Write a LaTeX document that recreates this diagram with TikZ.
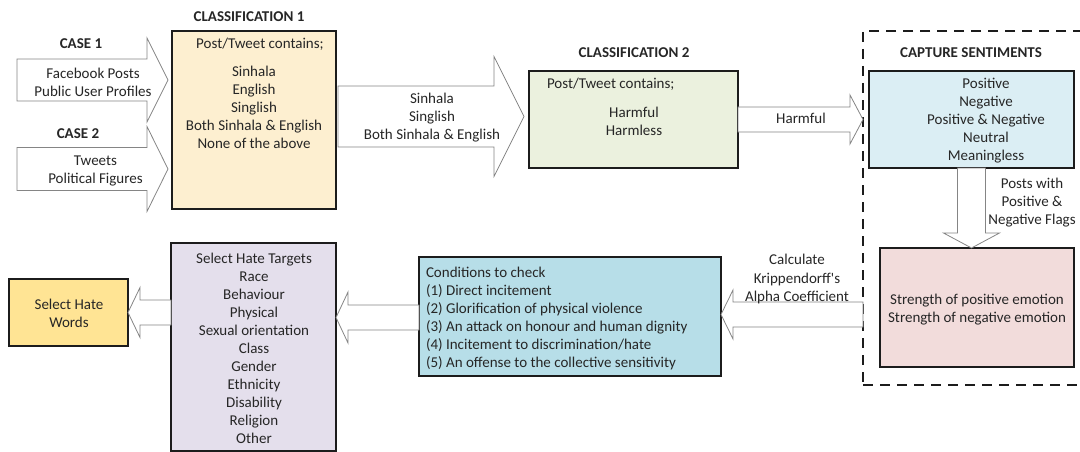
\documentclass[tikz,border=0pt]{standalone}
\usepackage{fontspec}
\setmainfont{Carlito}
\newfontfamily\plainquote{Carlito}[Ligatures=TeXOff]
\usetikzlibrary{calc}

\definecolor{ink}{HTML}{262626}
\definecolor{edge}{HTML}{1C1C1C}
\definecolor{arrowline}{HTML}{858585}
\definecolor{fillA}{HTML}{FDEFD0}
\definecolor{fillB}{HTML}{EBF1DE}
\definecolor{fillC}{HTML}{DBEEF4}
\definecolor{fillD}{HTML}{F2DCDB}
\definecolor{fillE}{HTML}{B7DEE8}
\definecolor{fillF}{HTML}{E4DFEC}
\definecolor{fillG}{HTML}{FFE494}

% horizontal block arrow: tail, tip, half shaft, half head, head length
\newcommand\hblock[5]{%
  \draw[blockarrow] let \p1=(#1), \p2=(#2), \n1={sign(\x2-\x1)} in
    (\x1,{\y2+#3}) -- ({\x2-\n1*#5},{\y2+#3}) -- ({\x2-\n1*#5},{\y2+#4})
    -- (\x2,\y2) -- ({\x2-\n1*#5},{\y2-#4}) -- ({\x2-\n1*#5},{\y2-#3})
    -- (\x1,{\y2-#3}) -- cycle;}
% vertical block arrow pointing down
\newcommand\vblock[5]{%
  \draw[blockarrow] let \p1=(#1), \p2=(#2) in
    ({\x1-#3},\y1) -- ({\x1-#3},{\y2+#5}) -- ({\x1-#4},{\y2+#5})
    -- (\x1,\y2) -- ({\x1+#4},{\y2+#5}) -- ({\x1+#3},{\y2+#5})
    -- ({\x1+#3},\y1) -- cycle;}

\begin{document}
\begin{tikzpicture}[x=1pt,y=-1pt,
  every node/.style={text=ink, font=\fontsize{15pt}{18pt}\selectfont, inner sep=0pt, outer sep=0pt},
  box/.style={draw=edge, line width=1.6pt, anchor=north west},
  title/.style={font=\fontsize{15pt}{18pt}\selectfont\bfseries},
  lines/.style={align=center},
  oneline/.style={anchor=base},
  blockarrow/.style={draw=arrowline, line width=0.8pt, fill=white},
]
\useasboundingbox (0,0) rectangle (1080,452);

% boxes
\node[box, fill=fillA, minimum width=164pt, minimum height=178pt] (c1) at (172,31) {};
\node[box, fill=fillB, minimum width=209pt, minimum height=97pt] (c2) at (529,71) {};
\node[draw=edge, line width=1.6pt, dash pattern=on 10pt off 7pt, anchor=north west,
      minimum width=222pt, minimum height=354pt] (sent) at (863,31) {};
\node[box, fill=fillC, minimum width=205pt, minimum height=97pt] (cs) at (869,71) {};
\node[box, fill=fillD, minimum width=194pt, minimum height=119pt] (st) at (880,248) {};
\node[box, fill=fillE, minimum width=302pt, minimum height=119pt] (cond) at (419,257) {};
\node[box, fill=fillF, minimum width=165pt, minimum height=208pt] (tg) at (171,243) {};
\node[box, fill=fillG, minimum width=119pt, minimum height=67pt] (hw) at (9,279) {};

% arrow ends
\coordinate (in1) at (17,80);
\coordinate (in2) at (17,169);
\coordinate (in1tip) at ($(c1.west |- in1)+(-4,0)$);
\coordinate (in2tip) at ($(c1.west |- in2)+(-4,0)$);
\coordinate (c1out) at ($(c1.east)+(2,0)$);
\coordinate (c2in) at ($(c2.west)+(-5,-3)$);
\coordinate (sentin) at (sent.west |- c2.east);
\coordinate (sentout) at ($(sent.west |- st.west)+(0,7)$);
\coordinate (condin) at ($(cond.east)+(0,-2)$);
\coordinate (tgin) at ($(tg.east |- cond.west)+(0,1)$);

% block arrows
\hblock{in1}{in1tip}{21pt}{42pt}{21pt}
\hblock{in2}{in2tip}{21.5pt}{42.5pt}{21pt}
\hblock{c1out}{c2in}{30.5pt}{60pt}{30pt}
\hblock{c2.east}{sentin}{12.5pt}{24.5pt}{13pt}
\vblock{cs.south}{st.north}{14pt}{28pt}{15pt}
\hblock{sentout}{condin}{12.5pt}{24.5pt}{12pt}
\hblock{cond.west}{tgin}{12.5pt}{25.5pt}{12pt}
\hblock{tg.west}{hw.east}{12.5pt}{25pt}{12pt}

% titles
\node[title] (t1) at (249,17) {CLASSIFICATION 1};
\node[title] (t2) at (634,53) {CLASSIFICATION 2};
\node[title] (t3) at (971,53) {CAPTURE SENTIMENTS};
\node[title] (case1) at (81,44) {CASE 1};
\node[title] (case2) at (78,134) {CASE 2};

% texts
\node[lines] (case1txt) at (93,82) {Facebook Posts\\Public User Profiles};
\node[lines] (case2txt) at (95.5,171) {Tweets\\Political Figures};
\node[oneline] (c1head) at (260,48.5) {Post/Tweet contains;};
\node[lines] (c1txt) at (254,107) {Sinhala\\English\\Singlish\\Both Sinhala \& English\\None of the above};
\node[lines] (c1outtxt) at (432,117.5) {Sinhala\\Singlish\\Both Sinhala \& English};
\node[oneline, anchor=base west] (c2head) at (547,88.5) {Post/Tweet contains;};
\node[lines] (c2txt) at (634,121.5) {Harmful\\Harmless};
\node[oneline] (harm) at (801,124) {Harmful};
\node[lines] (cstxt) at (986,121) {Positive\\Negative\\Positive \& Negative\\Neutral\\Meaningless};
\node[lines] (flags) at (1032,203) {Posts with\\Positive \&\\Negative Flags};
\node[lines] (sttxt) at (977,309.5) {Strength of positive emotion\\Strength of negative emotion};
\node[lines] (alpha) at (797,279) {Calculate\\{\plainquote Krippendorff's}\\Alpha Coefficient};
\node[align=left, anchor=west] (condtxt) at (426,318.5) {Conditions to check\\(1) Direct incitement\\(2) Glorification of physical violence\\(3) An attack on honour and human dignity\\(4) Incitement to discrimination/hate\\(5) An offense to the collective sensitivity};
\node[lines] (tgtxt) at (254,348.5) {Select Hate Targets\\Race\\Behaviour\\Physical\\Sexual orientation\\Class\\Gender\\Ethnicity\\Disability\\Religion\\Other};
\node[lines] (hwtxt) at (69,313.5) {Select Hate\\Words};
\end{tikzpicture}
\end{document}
